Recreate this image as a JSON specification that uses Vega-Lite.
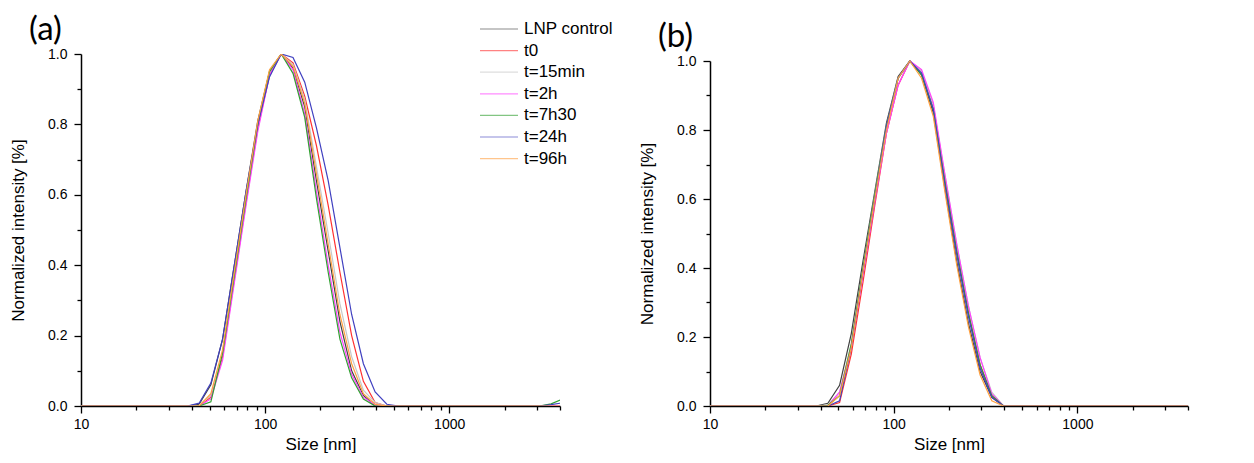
{
  "$schema": "https://vega.github.io/schema/vega-lite/v6.json",
  "background": "white",
  "padding": {"left": 9, "top": 14, "right": 5, "bottom": 5},
  "bounds": "flush",
  "spacing": 150,
  "config": {
    "font": "Liberation Sans",
    "view": {"stroke": null},
    "axis": {
      "grid": false,
      "domainColor": "#000000",
      "domainWidth": 1.5,
      "tickColor": "#000000",
      "tickWidth": 1.3,
      "labelColor": "#000000",
      "titleColor": "#000000",
      "labelFont": "Liberation Sans",
      "labelFontSize": 14,
      "titleFont": "Liberation Sans",
      "titleFontSize": 17,
      "titleFontWeight": "normal",
      "labelOverlap": false,
      "labelFlush": false
    },
    "legend": {
      "labelFont": "Liberation Sans",
      "labelFontSize": 17,
      "labelColor": "#000000"
    },
    "line": {"strokeWidth": 1.2}
  },
  "datasets": {
    "a": [
      {"size": 8.721, "LNP control": 0, "t0": 0, "t=15min": 0, "t=2h": 0, "t=7h30": 0, "t=24h": 0, "t=96h": 0},
      {"size": 37.84, "LNP control": 0, "t0": 0, "t=15min": 0, "t=2h": 0, "t=7h30": 0, "t=24h": 0, "t=96h": 0},
      {"size": 43.82, "LNP control": 0.005, "t0": 0, "t=15min": 0.002, "t=2h": 0, "t=7h30": 0, "t=24h": 0.008, "t=96h": 0},
      {"size": 50.75, "LNP control": 0.06, "t0": 0.025, "t=15min": 0.03, "t=2h": 0.02, "t=7h30": 0.012, "t=24h": 0.065, "t=96h": 0.035},
      {"size": 58.77, "LNP control": 0.19, "t0": 0.14, "t=15min": 0.15, "t=2h": 0.13, "t=7h30": 0.15, "t=24h": 0.19, "t=96h": 0.16},
      {"size": 68.06, "LNP control": 0.40, "t0": 0.36, "t=15min": 0.37, "t=2h": 0.35, "t=7h30": 0.37, "t=24h": 0.40, "t=96h": 0.38},
      {"size": 78.82, "LNP control": 0.61, "t0": 0.58, "t=15min": 0.59, "t=2h": 0.57, "t=7h30": 0.59, "t=24h": 0.61, "t=96h": 0.60},
      {"size": 91.28, "LNP control": 0.81, "t0": 0.79, "t=15min": 0.80, "t=2h": 0.78, "t=7h30": 0.80, "t=24h": 0.80, "t=96h": 0.81},
      {"size": 105.7, "LNP control": 0.95, "t0": 0.94, "t=15min": 0.95, "t=2h": 0.94, "t=7h30": 0.95, "t=24h": 0.935, "t=96h": 0.955},
      {"size": 122.4, "LNP control": 1, "t0": 1, "t=15min": 1, "t=2h": 1, "t=7h30": 1, "t=24h": 1, "t=96h": 1},
      {"size": 141.8, "LNP control": 0.96, "t0": 0.975, "t=15min": 0.97, "t=2h": 0.955, "t=7h30": 0.945, "t=24h": 0.99, "t=96h": 0.965},
      {"size": 164.2, "LNP control": 0.85, "t0": 0.88, "t=15min": 0.87, "t=2h": 0.83, "t=7h30": 0.82, "t=24h": 0.92, "t=96h": 0.86},
      {"size": 190.1, "LNP control": 0.64, "t0": 0.74, "t=15min": 0.68, "t=2h": 0.61, "t=7h30": 0.59, "t=24h": 0.79, "t=96h": 0.66},
      {"size": 220.2, "LNP control": 0.44, "t0": 0.57, "t=15min": 0.49, "t=2h": 0.40, "t=7h30": 0.38, "t=24h": 0.64, "t=96h": 0.46},
      {"size": 255.0, "LNP control": 0.24, "t0": 0.38, "t=15min": 0.29, "t=2h": 0.21, "t=7h30": 0.19, "t=24h": 0.45, "t=96h": 0.26},
      {"size": 295.3, "LNP control": 0.10, "t0": 0.20, "t=15min": 0.14, "t=2h": 0.09, "t=7h30": 0.08, "t=24h": 0.26, "t=96h": 0.12},
      {"size": 342.0, "LNP control": 0.03, "t0": 0.07, "t=15min": 0.045, "t=2h": 0.025, "t=7h30": 0.02, "t=24h": 0.12, "t=96h": 0.035},
      {"size": 396.1, "LNP control": 0, "t0": 0.01, "t=15min": 0.01, "t=2h": 0.003, "t=7h30": 0, "t=24h": 0.04, "t=96h": 0.005},
      {"size": 458.7, "LNP control": 0, "t0": 0, "t=15min": 0, "t=2h": 0, "t=7h30": 0, "t=24h": 0.005, "t=96h": 0},
      {"size": 531.2, "LNP control": 0, "t0": 0, "t=15min": 0, "t=2h": 0, "t=7h30": 0, "t=24h": 0, "t=96h": 0},
      {"size": 3091, "LNP control": 0, "t0": 0, "t=15min": 0, "t=2h": 0, "t=7h30": 0, "t=24h": 0, "t=96h": 0},
      {"size": 3580, "LNP control": 0, "t0": 0, "t=15min": 0, "t=2h": 0, "t=7h30": 0.006, "t=24h": 0.004, "t=96h": 0},
      {"size": 4145, "LNP control": 0, "t0": 0, "t=15min": 0, "t=2h": 0, "t=7h30": 0.02, "t=24h": 0.009, "t=96h": 0}
    ],
    "b": [
      {"size": 8.721, "LNP control": 0, "t0": 0, "t=15min": 0, "t=2h": 0, "t=7h30": 0, "t=24h": 0, "t=96h": 0},
      {"size": 37.84, "LNP control": 0, "t0": 0, "t=15min": 0, "t=2h": 0, "t=7h30": 0, "t=24h": 0, "t=96h": 0},
      {"size": 43.82, "LNP control": 0.008, "t0": 0, "t=15min": 0.003, "t=2h": 0, "t=7h30": 0.002, "t=24h": 0, "t=96h": 0},
      {"size": 50.75, "LNP control": 0.06, "t0": 0.01, "t=15min": 0.04, "t=2h": 0.04, "t=7h30": 0.03, "t=24h": 0.015, "t=96h": 0.03},
      {"size": 58.77, "LNP control": 0.21, "t0": 0.15, "t=15min": 0.18, "t=2h": 0.17, "t=7h30": 0.18, "t=24h": 0.17, "t=96h": 0.17},
      {"size": 68.06, "LNP control": 0.42, "t0": 0.36, "t=15min": 0.40, "t=2h": 0.38, "t=7h30": 0.40, "t=24h": 0.39, "t=96h": 0.39},
      {"size": 78.82, "LNP control": 0.62, "t0": 0.58, "t=15min": 0.61, "t=2h": 0.59, "t=7h30": 0.61, "t=24h": 0.60, "t=96h": 0.60},
      {"size": 91.28, "LNP control": 0.82, "t0": 0.79, "t=15min": 0.81, "t=2h": 0.79, "t=7h30": 0.81, "t=24h": 0.81, "t=96h": 0.80},
      {"size": 105.7, "LNP control": 0.955, "t0": 0.93, "t=15min": 0.95, "t=2h": 0.93, "t=7h30": 0.95, "t=24h": 0.95, "t=96h": 0.95},
      {"size": 122.4, "LNP control": 1, "t0": 1, "t=15min": 1, "t=2h": 1, "t=7h30": 1, "t=24h": 1, "t=96h": 1},
      {"size": 141.8, "LNP control": 0.96, "t0": 0.97, "t=15min": 0.97, "t=2h": 0.975, "t=7h30": 0.96, "t=24h": 0.965, "t=96h": 0.95},
      {"size": 164.2, "LNP control": 0.85, "t0": 0.87, "t=15min": 0.87, "t=2h": 0.88, "t=7h30": 0.86, "t=24h": 0.86, "t=96h": 0.84},
      {"size": 190.1, "LNP control": 0.63, "t0": 0.66, "t=15min": 0.67, "t=2h": 0.67, "t=7h30": 0.65, "t=24h": 0.64, "t=96h": 0.62},
      {"size": 220.2, "LNP control": 0.42, "t0": 0.45, "t=15min": 0.47, "t=2h": 0.47, "t=7h30": 0.45, "t=24h": 0.44, "t=96h": 0.41},
      {"size": 255.0, "LNP control": 0.24, "t0": 0.27, "t=15min": 0.29, "t=2h": 0.29, "t=7h30": 0.27, "t=24h": 0.26, "t=96h": 0.23},
      {"size": 295.3, "LNP control": 0.10, "t0": 0.12, "t=15min": 0.14, "t=2h": 0.14, "t=7h30": 0.12, "t=24h": 0.11, "t=96h": 0.09},
      {"size": 342.0, "LNP control": 0.025, "t0": 0.03, "t=15min": 0.04, "t=2h": 0.035, "t=7h30": 0.03, "t=24h": 0.025, "t=96h": 0.015},
      {"size": 396.1, "LNP control": 0, "t0": 0, "t=15min": 0, "t=2h": 0, "t=7h30": 0, "t=24h": 0, "t=96h": 0},
      {"size": 4145, "LNP control": 0, "t0": 0, "t=15min": 0, "t=2h": 0, "t=7h30": 0, "t=24h": 0, "t=96h": 0}
    ]
  },
  "hconcat": [
    {
      "width": 479,
      "height": 352,
      "title": {"text": "(a)", "anchor": "start", "frame": "group", "dx": -52, "dy": 3, "font": "Lato", "fontSize": 33, "fontWeight": "normal", "color": "#000000", "offset": 3},
      "data": {"name": "a"},
      "transform": [{"fold": ["LNP control", "t0", "t=15min", "t=2h", "t=7h30", "t=24h", "t=96h"], "as": ["series", "value"]}],
      "mark": {"type": "line", "clip": true, "strokeWidth": 1.2},
      "encoding": {
        "x": {
          "field": "size", "type": "quantitative", "title": "Size [nm]",
          "scale": {"type": "log", "domain": [10, 4000], "nice": false},
          "axis": {
            "values": [10, 20, 30, 40, 50, 60, 70, 80, 90, 100, 200, 300, 400, 500, 600, 700, 800, 900, 1000, 2000, 3000, 4000],
            "format": "d",
            "labelExpr": "datum.value == 10 || datum.value == 100 || datum.value == 1000 ? datum.label : ''",
            "tickSize": {"condition": {"test": "datum.value == 10 || datum.value == 100 || datum.value == 1000", "value": 7}, "value": 4},
            "labelPadding": 4,
            "titlePadding": 5
          }
        },
        "y": {
          "field": "value", "type": "quantitative", "title": "Normalized intensity [%]",
          "scale": {"domain": [0, 1], "nice": false},
          "axis": {
            "values": [0, 0.1, 0.2, 0.3, 0.4, 0.5, 0.6, 0.7, 0.8, 0.9, 1.0],
            "format": ".1f",
            "labelExpr": "round(datum.value * 10) % 2 == 0 ? datum.label : ''",
            "tickSize": {"condition": {"test": "round(datum.value * 10) % 2 == 0", "value": 7}, "value": 4},
            "labelPadding": 7,
            "titlePadding": 20
          }
        },
        "color": {
          "field": "series", "type": "nominal",
          "scale": {
            "domain": ["LNP control", "t0", "t=15min", "t=2h", "t=7h30", "t=24h", "t=96h"],
            "range": ["#404040", "#ff3030", "#c8c8c8", "#ff40ff", "#30a030", "#4040c0", "#ffa040"]
          },
          "legend": {
            "title": null, "orient": "none", "legendX": 407.5, "legendY": -35.5, "padding": 0,
            "symbolType": "M-2,0H2", "symbolSize": 361, "symbolStrokeWidth": 1.5, "symbolFillColor": "transparent", "symbolOpacity": 0.6,
            "labelOffset": 14.5, "rowPadding": 2.6
          }
        }
      }
    },
    {
      "width": 478,
      "height": 352,
      "title": {"text": "(b)", "anchor": "start", "frame": "group", "dx": -52, "dy": 3, "font": "Lato", "fontSize": 33, "fontWeight": "normal", "color": "#000000", "offset": 3},
      "data": {"name": "b"},
      "transform": [{"fold": ["LNP control", "t0", "t=15min", "t=2h", "t=7h30", "t=24h", "t=96h"], "as": ["series", "value"]}],
      "mark": {"type": "line", "clip": true, "strokeWidth": 1.2},
      "encoding": {
        "x": {
          "field": "size", "type": "quantitative", "title": "Size [nm]",
          "scale": {"type": "log", "domain": [10, 4000], "nice": false},
          "axis": {
            "values": [10, 20, 30, 40, 50, 60, 70, 80, 90, 100, 200, 300, 400, 500, 600, 700, 800, 900, 1000, 2000, 3000, 4000],
            "format": "d",
            "labelExpr": "datum.value == 10 || datum.value == 100 || datum.value == 1000 ? datum.label : ''",
            "tickSize": {"condition": {"test": "datum.value == 10 || datum.value == 100 || datum.value == 1000", "value": 7}, "value": 4},
            "labelPadding": 4,
            "titlePadding": 5
          }
        },
        "y": {
          "field": "value", "type": "quantitative", "title": "Normalized intensity [%]",
          "scale": {"domain": [0, 1], "nice": false, "range": [352, 7]},
          "axis": {
            "values": [0, 0.1, 0.2, 0.3, 0.4, 0.5, 0.6, 0.7, 0.8, 0.9, 1.0],
            "format": ".1f",
            "labelExpr": "round(datum.value * 10) % 2 == 0 ? datum.label : ''",
            "tickSize": {"condition": {"test": "round(datum.value * 10) % 2 == 0", "value": 7}, "value": 4},
            "labelPadding": 7,
            "titlePadding": 20
          }
        },
        "color": {
          "field": "series", "type": "nominal",
          "scale": {
            "domain": ["LNP control", "t0", "t=15min", "t=2h", "t=7h30", "t=24h", "t=96h"],
            "range": ["#404040", "#ff3030", "#c8c8c8", "#ff40ff", "#30a030", "#4040c0", "#ffa040"]
          },
          "legend": {
            "title": null, "orient": "none", "legendX": 406.5, "legendY": -35.5, "padding": 0,
            "symbolType": "M-2,0H2", "symbolSize": 361, "symbolStrokeWidth": 1.5, "symbolFillColor": "transparent", "symbolOpacity": 0.6,
            "labelOffset": 14.5, "rowPadding": 2.6
          }
        }
      }
    }
  ]
}
